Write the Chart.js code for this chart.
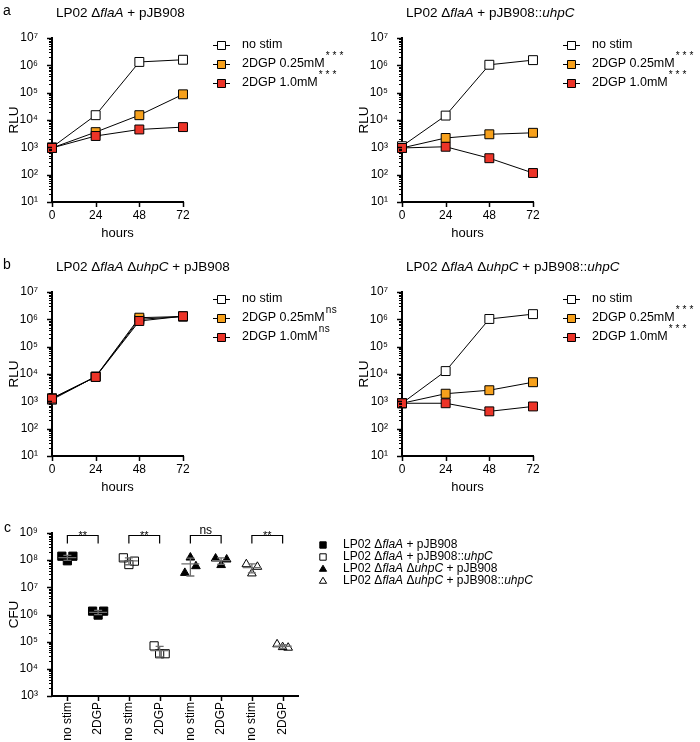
<!DOCTYPE html>
<html>
<head>
<meta charset="utf-8">
<script src="https://cdn.jsdelivr.net/npm/chart.js@4"></script>
<style>
  body { margin: 0; background: #fff; }
  canvas { position: absolute; }
</style>
</head>
<body>
<canvas id="aLeft" width="350" height="250" style="left:0;top:0"></canvas>
<canvas id="aRight" width="350" height="250" style="left:350px;top:0"></canvas>
<canvas id="bLeft" width="350" height="250" style="left:0;top:254px"></canvas>
<canvas id="bRight" width="350" height="250" style="left:350px;top:254px"></canvas>
<canvas id="cPanel" width="700" height="237" style="left:0;top:505px"></canvas>
<script>
// ---- data ----
const hours = [0, 24, 48, 72];
const seriesNames = ['no stim', '2DGP 0.25mM', '2DGP 1.0mM'];

// a: LP02 ΔflaA + pJB908
const aLeftTitle = 'LP02 Δ_flaA_ + pJB908';
const aLeftNoStim = [1000, 15000, 1330000, 1600000];
const aLeftLow = [950, 3600, 15000, 87000];
const aLeftHigh = [950, 2600, 4500, 5500];
const aLeftSig = ['', '***', '***'];

// a: LP02 ΔflaA + pJB908::uhpC
const aRightTitle = 'LP02 Δ_flaA_ + pJB908::_uhpC_';
const aRightNoStim = [1100, 14500, 1050000, 1550000];
const aRightLow = [950, 2200, 3000, 3400];
const aRightHigh = [950, 1050, 400, 115];
const aRightSig = ['', '***', '***'];

// b: LP02 ΔflaA ΔuhpC + pJB908
const bLeftTitle = 'LP02 Δ_flaA_ Δ_uhpC_ + pJB908';
const bLeftNoStim = [1150, 8000, 1000000, 1270000];
const bLeftLow = [1300, 8000, 1150000, 1270000];
const bLeftHigh = [1250, 7800, 870000, 1300000];
const bLeftSig = ['', 'ns', 'ns'];

// b: LP02 ΔflaA ΔuhpC + pJB908::uhpC
const bRightTitle = 'LP02 Δ_flaA_ Δ_uhpC_ + pJB908::_uhpC_';
const bRightNoStim = [850, 12800, 1030000, 1550000];
const bRightLow = [850, 1900, 2550, 5000];
const bRightHigh = [850, 850, 430, 650];
const bRightSig = ['', '***', '***'];

// c: CFU, three replicates per condition, one row per strain
const cfuCategories = ['no stim', '2DGP', 'no stim', '2DGP', 'no stim', '2DGP', 'no stim', '2DGP'];
const strainNames = [
  'LP02 Δ_flaA_ + pJB908',
  'LP02 Δ_flaA_ + pJB908::_uhpC_',
  'LP02 Δ_flaA_ Δ_uhpC_ + pJB908',
  'LP02 Δ_flaA_ Δ_uhpC_ + pJB908::_uhpC_'
];
const cfuNoStim = [
  [1.4e8, 0.95e8, 1.4e8],
  [1.22e8, 0.69e8, 0.92e8],
  [3.4e7, 1.25e8, 6.0e7],
  [7.1e7, 3.25e7, 5.7e7]
];
const cfu2DGP = [
  [1.33e6, 0.95e6, 1.33e6],
  [7.0e4, 3.6e4, 3.6e4],
  [1.15e8, 0.66e8, 1.06e8],
  [8.0e4, 6.3e4, 6.0e4]
];
const cfuSig = ['**', '**', 'ns', '**'];

// ---- styling / helpers ----
const FONT = "'Liberation Sans', Arial, Helvetica, sans-serif";
Chart.defaults.font.family = FONT;
Chart.defaults.color = '#000';
Chart.defaults.animation = false;

const seriesFill = ['#ffffff', 'rgb(247,161,28)', 'rgb(236,52,40)'];
const SUP = '⁰¹²³⁴⁵⁶⁷⁸⁹';

function powLabel(v) {
  const e = Math.log10(v);
  if (Math.abs(e - Math.round(e)) > 1e-6) return '';
  return '10' + String(Math.round(e)).split('').map(d => SUP[+d]).join('');
}

// minor ticks at 1..9 x 10^n
function logTicks(scale) {
  const ticks = [];
  const e0 = Math.round(Math.log10(scale.min)), e1 = Math.round(Math.log10(scale.max));
  for (let e = e0; e < e1; e++)
    for (let k = 1; k < 10; k++) ticks.push({value: k * Math.pow(10, e)});
  ticks.push({value: scale.max});
  scale.ticks = ticks;
}

// text with _italic_ parts
function drawRich(ctx, text, x, y, size, align) {
  const parts = text.split('_');
  const fonts = parts.map((p, i) => (i % 2 ? 'italic ' : '') + size + 'px ' + FONT);
  let w = 0;
  parts.forEach((p, i) => { ctx.font = fonts[i]; w += ctx.measureText(p).width; });
  let cx = align === 'center' ? x - w / 2 : x;
  ctx.textAlign = 'left';
  ctx.textBaseline = 'middle';
  parts.forEach((p, i) => {
    ctx.font = fonts[i];
    ctx.fillText(p, cx, y);
    cx += ctx.measureText(p).width;
  });
  return cx;
}

function marker(ctx, style, x, y, r, fill) {
  ctx.beginPath();
  if (style === 'triangle') {
    ctx.moveTo(x, y - r);
    ctx.lineTo(x + r * 0.95, y + r * 0.6);
    ctx.lineTo(x - r * 0.95, y + r * 0.6);
    ctx.closePath();
  } else {
    ctx.rect(x - r, y - r, 2 * r, 2 * r);
  }
  ctx.fillStyle = fill;
  ctx.fill();
  ctx.lineWidth = 1;
  ctx.strokeStyle = '#000';
  ctx.stroke();
}

const tickMarks = {
  id: 'tickMarks',
  afterDraw(chart) {
    const {ctx, chartArea: ca, scales: {x, y}} = chart;
    ctx.save();
    ctx.strokeStyle = '#000';
    y.ticks.forEach(t => {
      const py = Math.round(y.getPixelForValue(t.value)) + 0.5;
      const major = powLabel(t.value) !== '';
      ctx.lineWidth = major ? 1.5 : 1;
      ctx.beginPath();
      ctx.moveTo(ca.left - (major ? 5 : 3), py);
      ctx.lineTo(ca.left, py);
      ctx.stroke();
    });
    x.ticks.forEach(t => {
      const px = Math.round(x.getPixelForValue(t.value)) + 0.5;
      ctx.lineWidth = 1.5;
      ctx.beginPath();
      ctx.moveTo(px, ca.bottom);
      ctx.lineTo(px, ca.bottom + 5);
      ctx.stroke();
    });
    ctx.restore();
  }
};

const lineDecor = {
  id: 'lineDecor',
  afterDraw(chart, args, o) {
    const {ctx, chartArea: ca} = chart;
    ctx.save();
    ctx.fillStyle = '#000';
    if (o.letter) {
      ctx.font = '14px ' + FONT;
      ctx.textBaseline = 'middle';
      ctx.fillText(o.letter, 3, 11);
    }
    drawRich(ctx, o.title, ca.left + 4, 13, 13.5);
    chart.data.datasets.forEach((ds, i) => {
      const y = ca.top + 7 + i * 19;
      const x0 = ca.right + 30;
      ctx.strokeStyle = '#000';
      ctx.lineWidth = 1;
      ctx.beginPath();
      ctx.moveTo(x0, y + 0.5);
      ctx.lineTo(x0 + 17, y + 0.5);
      ctx.stroke();
      marker(ctx, 'rect', x0 + 8.5, y + 0.5, 4, ds.pointBackgroundColor);
      ctx.fillStyle = '#000';
      const end = drawRich(ctx, ds.label, x0 + 29, y, 12.5);
      if (o.sig[i]) {
        ctx.font = '10px ' + FONT;
        ctx.letterSpacing = o.sig[i] === 'ns' ? '0.5px' : '3px';
        ctx.fillText(o.sig[i], end + 1, y - 8);
        ctx.letterSpacing = '0px';
      }
    });
    ctx.restore();
  }
};

function linePanel(id, letter, title, noStim, low, high, sig) {
  const values = [noStim, low, high];
  new Chart(document.getElementById(id), {
    type: 'line',
    data: {
      datasets: values.map((v, i) => ({
        label: seriesNames[i],
        data: hours.map((h, j) => ({x: h, y: v[j]})),
        borderColor: '#000',
        borderWidth: 1,
        pointStyle: 'rect',
        pointRadius: 6.3,
        pointBackgroundColor: seriesFill[i],
        pointBorderColor: '#000',
        pointBorderWidth: 1,
        order: 3 - i,
        clip: false
      }))
    },
    options: {
      responsive: false,
      animation: false,
      layout: {padding: {top: 38, left: 0, right: 167, bottom: 9}},
      plugins: {
        legend: {display: false},
        tooltip: {enabled: false},
        lineDecor: {letter, title, sig}
      },
      scales: {
        x: {
          type: 'linear', min: 0, max: 72,
          grid: {display: false},
          border: {color: '#000', width: 2},
          afterBuildTicks: s => { s.ticks = hours.map(h => ({value: h})); },
          ticks: {font: {size: 12}, padding: -2},
          title: {display: true, text: 'hours', font: {size: 13}, padding: 0},
          afterFit: s => { s.height = 39; }
        },
        y: {
          type: 'logarithmic', min: 10, max: 1e7,
          grid: {display: false},
          border: {color: '#000', width: 2},
          afterBuildTicks: logTicks,
          ticks: {callback: powLabel, autoSkip: false, font: {size: 12}, padding: 6},
          title: {display: true, text: 'RLU', font: {size: 13.5}, padding: {top: 6, bottom: 0}},
          afterFit: s => { s.width = 52; }
        }
      }
    },
    plugins: [tickMarks, lineDecor]
  });
}

linePanel('aLeft', 'a', aLeftTitle, aLeftNoStim, aLeftLow, aLeftHigh, aLeftSig);
linePanel('aRight', '', aRightTitle, aRightNoStim, aRightLow, aRightHigh, aRightSig);
linePanel('bLeft', 'b', bLeftTitle, bLeftNoStim, bLeftLow, bLeftHigh, bLeftSig);
linePanel('bRight', '', bRightTitle, bRightNoStim, bRightLow, bRightHigh, bRightSig);

// ---- panel c ----
const strainStyle = ['rect', 'rect', 'triangle', 'triangle'];
const strainFill = ['#000', 'rgba(0,0,0,0)', '#000', 'rgba(0,0,0,0)'];
const jitter = [-0.18, 0, 0.18];

const cfuDecor = {
  id: 'cfuDecor',
  afterDatasetsDraw(chart) {
    const {ctx, scales: {x, y}} = chart;
    ctx.save();
    // mean and SD
    ctx.strokeStyle = '#6f6f6f';
    ctx.lineWidth = 1.3;
    [cfuNoStim, cfu2DGP].forEach((groups, g) => groups.forEach((vals, s) => {
      const mean = vals.reduce((a, b) => a + b, 0) / vals.length;
      const sd = Math.sqrt(vals.reduce((a, b) => a + (b - mean) ** 2, 0) / (vals.length - 1));
      const px = x.getPixelForValue(2 * s + g);
      const pm = y.getPixelForValue(mean);
      const pt = y.getPixelForValue(mean + sd);
      const pb = y.getPixelForValue(Math.max(mean - sd, y.min));
      ctx.beginPath();
      ctx.moveTo(px - 9, pm); ctx.lineTo(px + 9, pm);
      ctx.moveTo(px, pt); ctx.lineTo(px, pb);
      ctx.moveTo(px - 4, pt); ctx.lineTo(px + 4, pt);
      ctx.moveTo(px - 4, pb); ctx.lineTo(px + 4, pb);
      ctx.stroke();
    }));
    ctx.restore();
  },
  afterDraw(chart) {
    const {ctx, scales: {x, y}} = chart;
    ctx.save();
    ctx.fillStyle = '#000';
    ctx.font = '14px ' + FONT;
    ctx.textBaseline = 'middle';
    ctx.fillText('c', 4, 23);
    // significance brackets
    const yb = Math.round(y.getPixelForValue(y.max)) + 2.5;
    ctx.strokeStyle = '#000';
    ctx.lineWidth = 1.2;
    cfuSig.forEach((txt, s) => {
      const x1 = x.getPixelForValue(2 * s), x2 = x.getPixelForValue(2 * s + 1);
      ctx.beginPath();
      ctx.moveTo(x1, yb + 8); ctx.lineTo(x1, yb); ctx.lineTo(x2, yb); ctx.lineTo(x2, yb + 8);
      ctx.stroke();
      ctx.textAlign = 'center';
      ctx.textBaseline = 'alphabetic';
      if (txt === 'ns') {
        ctx.font = '12px ' + FONT;
        ctx.fillText(txt, (x1 + x2) / 2, yb - 2);
      } else {
        ctx.font = '11px ' + FONT;
        ctx.fillText(txt, (x1 + x2) / 2, yb + 3);
      }
    });
    // legend
    chart.data.datasets.forEach((ds, i) => {
      const ly = 40 + i * 12;
      marker(ctx, strainStyle[i], 323, ly, strainStyle[i] === 'rect' ? 3.2 : 3.8, strainFill[i]);
      ctx.fillStyle = '#000';
      drawRich(ctx, ds.label, 343, ly, 12);
    });
    ctx.restore();
  }
};

new Chart(document.getElementById('cPanel'), {
  type: 'scatter',
  data: {
    datasets: strainNames.map((name, s) => ({
      label: name,
      data: [
        ...cfuNoStim[s].map((v, k) => ({x: 2 * s + jitter[k], y: v})),
        ...cfu2DGP[s].map((v, k) => ({x: 2 * s + 1 + jitter[k], y: v}))
      ],
      pointStyle: strainStyle[s],
      pointRadius: strainStyle[s] === 'rect' ? 5.8 : 5,
      backgroundColor: strainFill[s],
      borderColor: '#000',
      borderWidth: 1,
      clip: false
    }))
  },
  options: {
    responsive: false,
    animation: false,
    layout: {padding: {top: 28, left: 0, right: 402, bottom: 0}},
    plugins: {legend: {display: false}, tooltip: {enabled: false}},
    scales: {
      x: {
        type: 'linear', min: -0.5, max: 7.5,
        grid: {display: false},
        border: {color: '#000', width: 2},
        afterBuildTicks: s => { s.ticks = cfuCategories.map((c, i) => ({value: i})); },
        ticks: {
          callback: v => cfuCategories[v],
          font: {size: 12}, padding: -2, minRotation: 90, maxRotation: 90, autoSkip: false
        },
        afterFit: s => { s.height = 46; }
      },
      y: {
        type: 'logarithmic', min: 1e3, max: 1e9,
        grid: {display: false},
        border: {color: '#000', width: 2},
        afterBuildTicks: logTicks,
        ticks: {callback: powLabel, autoSkip: false, font: {size: 12}, padding: 6},
        title: {display: true, text: 'CFU', font: {size: 13.5}, padding: {top: 6, bottom: 0}},
        afterFit: s => { s.width = 52; }
      }
    }
  },
  plugins: [tickMarks, cfuDecor]
});
</script>
</body>
</html>
